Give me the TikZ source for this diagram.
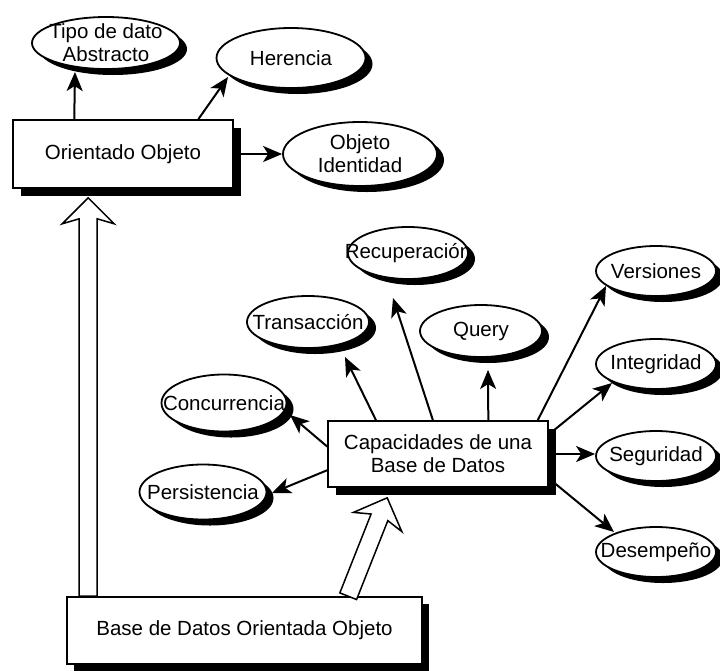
\documentclass[tikz,border=0pt]{standalone}
\usepackage{fontspec}
\setmainfont{Liberation Sans}
\usetikzlibrary{shapes.geometric,arrows.meta,calc,shadows}
\pgfdeclarelayer{bg}
\pgfsetlayers{bg,main}
\newcommand\myhollowarrow[2]{%
  \coordinate (hbi) at ($(#2)!21pt!(#1)$);
  \coordinate (hbo) at ($(#2)!26pt!(#1)$);
  \draw[hollow] ($(#1)!9pt!90:(#2)$) -- ($(hbi)!9pt!90:(#2)$) -- ($(hbo)!26pt!90:(#2)$) -- (#2)
    -- ($(hbo)!26pt!-90:(#2)$) -- ($(hbi)!9pt!-90:(#2)$) -- ($(#1)!9pt!-90:(#2)$) -- cycle;}
\tikzset{
  box/.style={draw, line width=1.6pt, fill=white, align=center, inner sep=0pt,
    general shadow={fill=black, shadow xshift=#1, shadow yshift=-#1}},
  box/.default=8pt,
  ell/.style 2 args={ellipse, draw, line width=1.8pt, fill=white, inner sep=0pt,
    minimum width=#1, minimum height=#2,
    general shadow={fill=black, shadow xshift=7pt, shadow yshift=-6pt}},
  txt/.style={align=center, inner sep=0pt},
  conn/.style={line width=2pt, -{Stealth[length=19pt, width=16pt, inset=5pt]}},
  hollow/.style={line width=1.5pt, fill=white, line join=miter},
}
\begin{document}
\begin{tikzpicture}[x=1pt, y=-1pt, font=\fontsize{20.5}{23}\selectfont]
\begin{pgfonlayer}{bg}
\fill[white] (0,0) rectangle (720,670);
\end{pgfonlayer}
\useasboundingbox (0,0) rectangle (720,670);

% boxes
\node[box, minimum width=220pt, minimum height=68pt] (ori) at (123,154) {Orientado Objeto};
\node[box, minimum width=220pt, minimum height=66pt] (cap) at (438,454) {Capacidades de una\\Base de Datos};
\node[box=7pt, minimum width=355pt, minimum height=67pt] (base) at (244.5,630.5) {Base de Datos Orientada Objeto};

% ellipses
\node[ell={148pt}{52pt}] (tipo) at (106,43) {};
\node[txt] (tipoT) at (tipo) {Tipo de dato\\Abstracto};
\node[ell={149pt}{60pt}] (her) at (291,58) {};
\node[txt] (herT) at (her) {Herencia};
\node[ell={154pt}{64pt}] (obj) at (360,154) {};
\node[txt] (objT) at (obj) {Objeto\\Identidad};
\node[ell={120pt}{52pt}] (rec) at (408,253) {};
\node[txt] (recT) at (rec) {Recuperación};
\node[ell={122pt}{52pt}] (trans) at (308,322) {};
\node[txt] (transT) at (trans) {Transacción};
\node[ell={122pt}{52pt}] (query) at (481,331) {};
\node[txt] (queryT) at (query) {Query};
\node[ell={120pt}{50pt}] (vers) at (656,271) {};
\node[txt] (versT) at (vers) {Versiones};
\node[ell={120pt}{50pt}] (integ) at (656,364) {};
\node[txt] (integT) at (integ) {Integridad};
\node[ell={125pt}{57pt}] (conc) at (224,403) {};
\node[txt] (concT) at (conc) {Concurrencia};
\node[ell={127pt}{55pt}] (pers) at (203,492) {};
\node[txt] (persT) at (pers) {Persistencia};
\node[ell={120pt}{50pt}] (seg) at (656,456) {};
\node[txt] (segT) at (seg) {Seguridad};
\node[ell={120pt}{50pt}] (des) at (656,552) {};
\node[txt] (desT) at (des) {Desempeño};

% connectors
\begin{pgfonlayer}{bg}
\draw[conn] ($(ori.north west)!0.28!(ori.north east)$) -- ($(tipo)+(-31,29)$);
\draw[conn] ($(ori.north west)!0.84!(ori.north east)$) -- ($(her)+(-63,19)$);
\draw[conn] (ori.east) -- (obj.west);
\draw[conn] ($(cap.north west)!0.477!(cap.north east)$) -- ($(rec)+(-15,45)$);
\draw[conn] ($(cap.north west)!0.22!(cap.north east)$) -- ($(trans)+(37,35)$);
\draw[conn] ($(cap.north west)!0.727!(cap.north east)$) -- ($(query)+(7,39)$);
\draw[conn] ($(cap.north west)!0.95!(cap.north east)$) -- ($(vers)+(-50,15)$);
\draw[conn] ($(cap.north east)!0.21!(cap.south east)$) -- ($(integ)+(-44,19)$);
\draw[conn] (cap.east) -- (cap.east -| seg.west);
\draw[conn] ($(cap.north east)!0.86!(cap.south east)$) -- ($(des)+(-42,-20)$);
\draw[conn] ($(cap.north west)!0.39!(cap.south west)$) -- ($(conc)+(66,12)$);
\draw[conn] ($(cap.north west)!0.74!(cap.south west)$) -- ($(pers)+(69,1)$);
\end{pgfonlayer}

% hollow arrows
\coordinate (s1) at ($(base.north west)+(22,0)$);
\coordinate (t1) at ($(ori.south west)+(76,9)$);
\coordinate (s2) at ($(base.north west)+(282,0)$);
\coordinate (t2) at ($(cap.south west)+(60,10)$);
\myhollowarrow{s1}{t1}
\myhollowarrow{s2}{t2}
\end{tikzpicture}
\end{document}
